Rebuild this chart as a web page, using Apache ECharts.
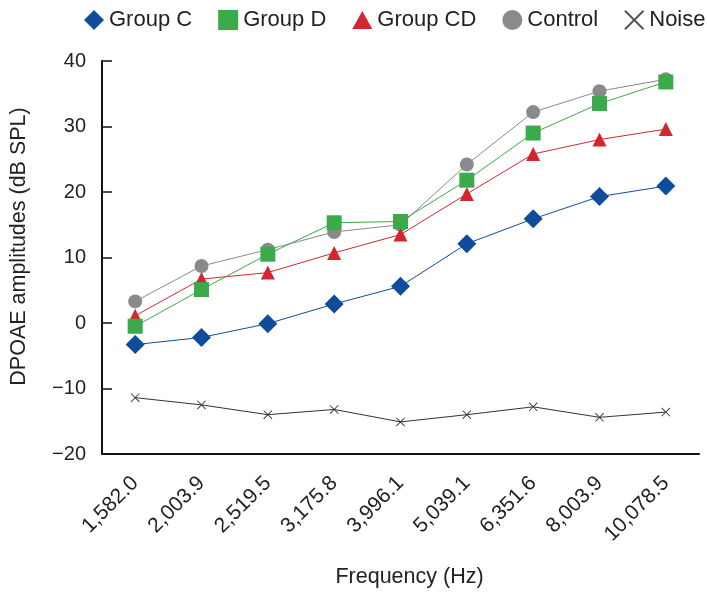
<!DOCTYPE html>
<html><head><meta charset="utf-8">
<script src="https://cdn.jsdelivr.net/npm/echarts@6/dist/echarts.min.js"></script>
<style>html,body{margin:0;padding:0;background:#fff}#c{width:707px;height:596px}</style>
</head><body><div id="c"></div>
<script>
var categories = ['1,582.0','2,003.9','2,519.5','3,175.8','3,996.1','5,039.1','6,351.6','8,003.9','10,078.5'];
var groupC  = [-3.3, -2.2, -0.1, 2.9, 5.6, 12.1, 15.9, 19.3, 20.9];
var groupD  = [-0.5, 5.1, 10.5, 15.3, 15.5, 21.8, 29.0, 33.5, 36.8];
var groupCD = [1.1, 6.7, 7.7, 10.7, 13.5, 19.7, 25.8, 28.0, 29.6];
var control = [3.3, 8.7, 11.2, 13.9, 15.0, 24.2, 32.2, 35.4, 37.2];
var noise   = [-11.4, -12.5, -14.0, -13.2, -15.1, -14.0, -12.8, -14.4, -13.6];
var yTicks = {min: -20, max: 40, interval: 10};

var FONT = 'Liberation Sans';
var cross = 'path://M0,0.7 L0.7,0 L10,9.3 L9.3,10 Z M9.3,0 L10,0.7 L0.7,10 L0,9.3 Z';
function s(name, data, color, symbol, size, lineColor){
  return {name:name, type:'line', data:data, symbol:symbol, symbolSize:size,
    itemStyle:{color:color}, lineStyle:{color:lineColor||color, width:1},
    emphasis:{disabled:true}, animation:false};
}
var chart = echarts.init(document.getElementById('c'));
chart.setOption({
  backgroundColor:'#fff',
  animation:false,
  legend:{
    top:4, left:79, width:660, itemGap:26, itemWidth:20, itemHeight:20,
    textStyle:{fontFamily:FONT, fontSize:22, color:'#222'},
    data:[
      {name:'Group C', icon:'diamond'},
      {name:'Group D', icon:'path://M0,0 L10,0 L10,10 L0,10 Z'},
      {name:'Group CD', icon:'path://M5,0 L10,9 L0,9 Z'},
      {name:'Control', icon:'circle'},
      {name:'Noise', icon:cross, itemStyle:{color:'#555'}}
    ]
  },
  grid:{left:101, right:8, top:61, bottom:142},
  xAxis:{
    type:'category', data:categories, boundaryGap:true,
    axisLine:{onZero:false, lineStyle:{color:'#111', width:2}},
    axisTick:{show:false},
    axisLabel:{rotate:45, fontFamily:FONT, fontSize:21, color:'#222', margin:26, interval:0},
    name:'Frequency (Hz)', nameLocation:'middle', nameGap:112,
    nameTextStyle:{fontFamily:FONT, fontSize:21.5, color:'#222', padding:[0,0,0,18]}
  },
  yAxis:{
    type:'value', min:yTicks.min, max:yTicks.max, interval:yTicks.interval,
    axisLine:{show:true, lineStyle:{color:'#111', width:2}},
    axisTick:{show:true, inside:true, length:10, lineStyle:{color:'#111', width:1.5}},
    splitLine:{show:false},
    axisLabel:{fontFamily:FONT, fontSize:20, color:'#222', margin:16,
      formatter:function(v){return String(v).replace('-', '\u2212');}},
    name:'DPOAE amplitudes (dB SPL)', nameLocation:'middle', nameGap:72,
    nameTextStyle:{fontFamily:FONT, fontSize:21.5, color:'#222', padding:[0,0,0,22]}
  },
  series:[
    s('Noise', noise, '#333', cross, 9, '#333'),
    s('Control', control, '#8a8a8c', 'circle', 14),
    s('Group CD', groupCD, '#d4262e', 'triangle', 14),
    s('Group D', groupD, '#3aaa4a', 'rect', 15),
    s('Group C', groupC, '#0f4c9c', 'diamond', 19)
  ]
});
</script></body></html>
